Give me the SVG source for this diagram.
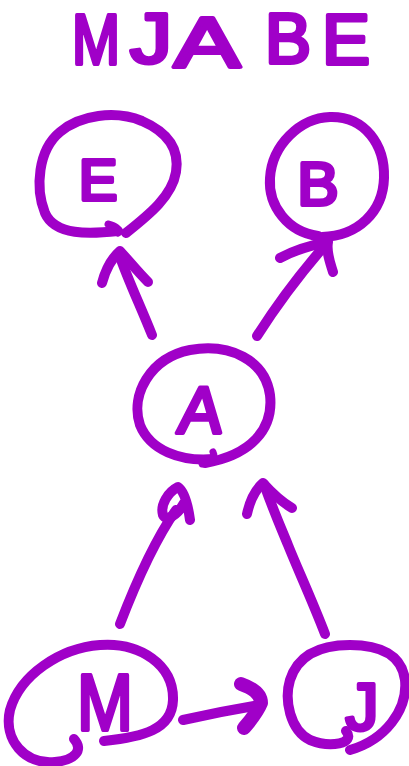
<svg xmlns="http://www.w3.org/2000/svg" width="409" height="766" viewBox="0 0 409 766">
  <style>
    .ink { fill: none; stroke: #a000c8; stroke-width: 10; stroke-linecap: round; stroke-linejoin: round; }
    .thin { stroke-width: 7; }
    .lbl { font-family: "Liberation Sans", Arial, sans-serif; font-weight: normal; fill: #a000c8; stroke: #a000c8; stroke-width: 4; stroke-linejoin: round; }
  </style>
  <rect width="409" height="766" fill="#ffffff"/>

  <!-- heading -->
  <g id="title" class="lbl" font-size="70">
    <text x="72" y="64" textLength="48" lengthAdjust="spacingAndGlyphs">M</text>
    <text x="130" y="63" textLength="42" lengthAdjust="spacingAndGlyphs">J</text>
    <text x="174" y="67" textLength="66" lengthAdjust="spacingAndGlyphs">A</text>
    <text x="265" y="63" textLength="46" lengthAdjust="spacingAndGlyphs">B</text>
    <text x="322" y="64" textLength="48" lengthAdjust="spacingAndGlyphs">E</text>
  </g>

  <!-- nodes -->
  <g id="node-E">
    <path class="ink" d="M118,231 C90,234 55,236 45,213 C35,188 38,150 60,132 C80,115 115,110 142,121 C165,131 180,147 176,172 C172,196 150,214 126,233"/>
    <path class="ink thin" d="M108,224 C116,226 120,229 118,233"/>
    <text class="lbl" x="98" y="200" font-size="58" text-anchor="middle">E</text>
  </g>

  <g id="node-B">
    <path class="ink" d="M318,236 C288,232 268,206 270,178 C272,145 300,118 330,117 C365,116 385,145 384,178 C383,212 358,236 322,237"/>
    <text class="lbl" x="318" y="205" font-size="62" text-anchor="middle">B</text>
  </g>

  <g id="node-A">
    <path class="ink" d="M214,459 C180,462 150,450 140,425 C130,395 150,358 190,350 C230,343 265,360 270,395 C274,430 250,455 205,463"/>
    <path class="ink thin" d="M213,452 C216,458 210,462 202,464"/>
    <text class="lbl" x="200" y="433" font-size="66" text-anchor="middle" transform="skewX(-6) translate(44,0)">A</text>
  </g>

  <g id="node-M">
    <path class="ink" d="M104,741 C142,737 172,730 173,700 C174,665 140,642 100,645 C60,648 20,675 10,710 C3,740 25,765 55,762 C75,760 84,750 74,739"/>
    <text class="lbl" x="105" y="730" font-size="80" text-anchor="middle" textLength="56" lengthAdjust="spacingAndGlyphs">M</text>
  </g>

  <g id="node-J">
    <path class="ink" d="M346,731 C356,744 330,748 310,740 C290,730 284,700 290,680 C298,655 320,645 350,645 C380,645 402,655 405,680 C408,710 385,740 350,750"/>
    <text class="lbl" x="362" y="730" font-size="66" text-anchor="middle">J</text>
  </g>

  <!-- connectors -->
  <g id="edges" class="ink">
    <path d="M152,335 C140,305 128,280 119,254"/>
    <path d="M102,283 C106,268 112,258 120,251 C130,262 138,272 148,282"/>

    <path d="M257,336 C280,300 305,268 327,243"/>
    <path d="M280,258 C295,250 312,245 328,242 C326,252 330,262 333,272"/>

    <path d="M120,624 C135,585 155,540 176,510"/>
    <path d="M190,520 C188,505 185,492 178,487 C168,492 160,505 163,515 C166,522 178,515 184,503"/>

    <path d="M325,634 C312,600 298,570 288,545 C282,530 275,515 264,484"/>
    <path d="M247,514 C250,500 255,490 263,483 C272,493 282,502 292,508"/>

    <path d="M183,720 C205,715 230,710 254,706"/>
    <path d="M241,684 C255,689 261,696 261,703 C257,713 250,721 244,728" stroke-width="14"/>
  </g>
</svg>
